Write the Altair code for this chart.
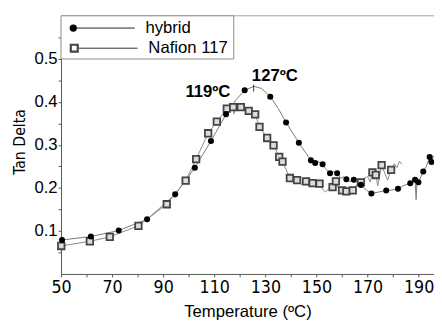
import altair as alt
import pandas as pd

# ---------------- data ----------------
hyb_T = [50.4, 61.7, 72.6, 83.7, 94.7, 102.4, 108.7, 114.6, 121.9, 131.9, 138.1, 143.1,
         147.8, 149.5, 152.4, 155.3, 158.1, 161.7, 164.6, 167.4, 171.5, 177.3, 181.9,
         186.7, 188.6, 189.9, 191.8, 194.3, 195.0]
hyb_y = [0.079, 0.087, 0.101, 0.127, 0.185, 0.247, 0.309, 0.371, 0.427, 0.412, 0.352, 0.305,
         0.264, 0.258, 0.255, 0.234, 0.234, 0.220, 0.219, 0.207, 0.187, 0.194, 0.198,
         0.211, 0.219, 0.213, 0.238, 0.272, 0.260]

naf_T = [50.1, 61.3, 69.1, 80.3, 91.4, 98.8, 102.9, 107.6, 111.0, 114.9, 117.4, 120.4,
         123.5, 126.0, 127.7, 130.7, 133.2, 135.4, 136.7, 139.6, 142.4, 145.9, 148.5,
         151.2, 156.3, 157.6, 160.0, 161.7, 164.2, 167.4, 171.9, 173.2, 175.5, 179.2]
naf_y = [0.065, 0.076, 0.086, 0.112, 0.162, 0.217, 0.267, 0.327, 0.354, 0.384, 0.388, 0.388,
         0.379, 0.371, 0.342, 0.316, 0.299, 0.272, 0.261, 0.223, 0.218, 0.215, 0.211,
         0.210, 0.202, 0.215, 0.194, 0.192, 0.194, 0.213, 0.236, 0.230, 0.253, 0.242]

# thin raw traces (pass through markers, with the noise seen between them)
hyb_line_T = [50.4, 61.7, 72.6, 83.7, 94.7, 102.4, 108.7, 114.6, 118.5, 121.9, 125.5, 128.5,
              131.9, 135.0, 138.1, 143.1, 147.8, 149.5, 150.5, 152.4, 153.5, 155.3, 156.5,
              158.1, 159.5, 160.5, 161.7, 163.0, 164.6, 166.0, 167.4, 169.5, 171.5, 174.0,
              177.3, 179.5, 181.9, 184.0, 186.7, 188.6, 189.0, 189.4, 189.9, 191.8, 193.0,
              194.3, 195.0, 195.8]
hyb_line_y = [0.079, 0.087, 0.101, 0.127, 0.185, 0.247, 0.309, 0.371, 0.405, 0.427, 0.436, 0.431,
              0.412, 0.385, 0.352, 0.305, 0.264, 0.258, 0.262, 0.255, 0.245, 0.234, 0.238,
              0.234, 0.222, 0.226, 0.220, 0.215, 0.219, 0.212, 0.207, 0.195, 0.187, 0.190,
              0.194, 0.195, 0.198, 0.205, 0.211, 0.219, 0.173, 0.222, 0.213, 0.238, 0.250,
              0.272, 0.260, 0.275]

naf_line_T = [50.1, 61.3, 69.1, 80.3, 91.4, 98.8, 102.9, 107.6, 111.0, 114.9, 117.4, 120.4,
              123.5, 126.0, 127.7, 130.7, 133.2, 135.4, 136.7, 139.6, 141.0, 142.4, 144.0,
              145.9, 147.0, 148.5, 150.0, 151.2, 152.5, 153.5, 155.0, 156.3, 157.6, 158.5,
              160.0, 161.7, 163.0, 164.2, 165.5, 167.4, 168.5, 170.0, 171.0, 171.9, 173.2,
              174.0, 175.5, 176.5, 177.8, 179.2, 180.5, 181.5, 182.5, 183.5]
naf_line_y = [0.065, 0.076, 0.086, 0.112, 0.162, 0.217, 0.267, 0.327, 0.354, 0.384, 0.388, 0.388,
              0.379, 0.371, 0.342, 0.316, 0.299, 0.272, 0.261, 0.223, 0.219, 0.218, 0.208,
              0.215, 0.204, 0.211, 0.200, 0.210, 0.196, 0.190, 0.200, 0.202, 0.215, 0.200,
              0.194, 0.192, 0.200, 0.194, 0.206, 0.213, 0.222, 0.226, 0.214, 0.236, 0.230,
              0.205, 0.253, 0.238, 0.218, 0.242, 0.256, 0.247, 0.262, 0.255]

peak_T = [125.4, 117.7]
peak_lo = [0.424, 0.372]
peak_hi = [0.440, 0.397]

ann_text = ["119ºC", "127ºC"]
ann_T = [107.5, 133.7]
ann_y = [0.422, 0.459]

x_ticks = [50, 60, 70, 80, 90, 100, 110, 120, 130, 140, 150, 160, 170, 180, 190]
y_ticks = [0.05, 0.1, 0.15, 0.2, 0.25, 0.3, 0.35, 0.4, 0.45, 0.5, 0.55]

legend_labels = ["hybrid", "Nafion 117"]

# ---------------- tables ----------------
hyb = pd.DataFrame({"T": hyb_T, "v": hyb_y})
naf = pd.DataFrame({"T": naf_T, "v": naf_y})
hyb_line = pd.DataFrame({"T": hyb_line_T, "v": hyb_line_y, "i": range(len(hyb_line_T))})
naf_line = pd.DataFrame({"T": naf_line_T, "v": naf_line_y, "i": range(len(naf_line_T))})
peaks = pd.DataFrame({"T": peak_T, "lo": peak_lo, "hi": peak_hi})
ann = pd.DataFrame({"t": ann_text, "T": ann_T, "v": ann_y})

NARROW = "Liberation Sans Narrow, Arial Narrow, DejaVu Sans Condensed, Liberation Sans"
W, H = 380, 263
xs = alt.Scale(domain=[50, 196], nice=False, zero=False)
ys = alt.Scale(domain=[0, 0.6], nice=False, zero=False)
AX = "#555555"

xaxis = alt.Axis(values=x_ticks, labelExpr="(datum.value % 20 == 10) ? datum.label : ''",
                 title="Temperature (ºC)", titleFont="Liberation Sans", titleFontSize=17,
                 titleFontWeight="normal", titleColor="black", titleY=43,
                 titleBaseline="alphabetic", labelFont=NARROW,
                 labelFontSize=18, labelColor="black", labelPadding=2, tickSize=3,
                 tickColor=AX, domainColor=AX, grid=False, labelFlush=False,
                 labelOverlap=False)
yaxis = alt.Axis(values=y_ticks,
                 labelExpr="(round(datum.value*100) % 10 == 0) ? format(datum.value, '.1f') : ''",
                 title="Tan Delta", titleFont=NARROW, titleFontSize=16,
                 titleFontWeight="normal", titleColor="black", titleX=-37, titleY=128,
                 titleAngle=270, titleBaseline="alphabetic", titleAlign="center",
                 labelFont="Liberation Sans", labelFontSize=17, labelColor="black",
                 labelPadding=1, tickSize=3, tickColor=AX, domainColor=AX, grid=False,
                 labelOverlap=False)

X = alt.X("T:Q", scale=xs, axis=xaxis)
Y = alt.Y("v:Q", scale=ys, axis=yaxis)

hyb_ln = alt.Chart(hyb_line).mark_line(color="#7a7a7a", strokeWidth=1).encode(
    x=X, y=Y, order="i:Q")
naf_ln = alt.Chart(naf_line).mark_line(color="#8a8a8a", strokeWidth=1).encode(
    x=X, y=Y, order="i:Q")
peak_rules = alt.Chart(peaks).mark_rule(color="#333333", strokeWidth=1).encode(
    x=X, y=alt.Y("lo:Q", scale=ys, axis=yaxis), y2="hi:Q")
naf_pts = alt.Chart(naf).mark_point(shape="square", size=44, fill="#dcdcdc", stroke="#444444",
                                    strokeWidth=1.8, opacity=1).encode(x=X, y=Y)
hyb_pts = alt.Chart(hyb).mark_point(shape="circle", size=38, filled=True, color="black",
                                    opacity=1).encode(x=X, y=Y)
ann_txt = alt.Chart(ann).mark_text(font="Liberation Sans", fontSize=17, fontWeight="bold",
                                   color="black").encode(x=X, y=Y, text="t:N")

# frame line on top
top_rule = alt.Chart(pd.DataFrame({"a": [0]})).mark_rule(color="#a0a0a0", strokeWidth=1).encode(
    y=alt.value(0), x=alt.value(0), x2=alt.value(W))

# legend box drawn by hand
leg = pd.DataFrame({"label": legend_labels, "row": [0, 1]})
leg_box = alt.Chart(pd.DataFrame({"a": [0]})).mark_rect(fill="white", stroke="#8c8c8c",
                                                        strokeWidth=1).encode(
    x=alt.value(0), x2=alt.value(176), y=alt.value(0), y2=alt.value(44))
leg_l1 = alt.Chart(pd.DataFrame({"a": [0]})).mark_rule(color="#222222", strokeWidth=1).encode(
    x=alt.value(16), x2=alt.value(75), y=alt.value(12.5))
leg_l2 = alt.Chart(pd.DataFrame({"a": [0]})).mark_rule(color="#333333", strokeWidth=1).encode(
    x=alt.value(18), x2=alt.value(78), y=alt.value(33))
leg_c = alt.Chart(pd.DataFrame({"a": [0]})).mark_point(shape="circle", size=55, filled=True,
                                                       color="black", opacity=1).encode(
    x=alt.value(12.5), y=alt.value(12.5))
leg_s = alt.Chart(pd.DataFrame({"a": [0]})).mark_point(shape="square", size=50, fill="white",
                                                       stroke="#444444", strokeWidth=2.2,
                                                       opacity=1).encode(
    x=alt.value(13.5), y=alt.value(33))
leg_t1 = alt.Chart(leg[leg.row == 0]).mark_text(align="left", baseline="middle",
                                                 font="Liberation Sans", fontSize=17,
                                                 color="black").encode(
    x=alt.value(86), y=alt.value(13), text="label:N")
leg_t2 = alt.Chart(leg[leg.row == 1]).mark_text(align="left", baseline="middle",
                                                 font="Liberation Sans", fontSize=17,
                                                 color="black").encode(
    x=alt.value(89), y=alt.value(32.5), text="label:N")

chart = alt.layer(
    hyb_ln, naf_ln, peak_rules, naf_pts, hyb_pts, ann_txt, top_rule,
    leg_box, leg_l1, leg_l2, leg_c, leg_s, leg_t1, leg_t2
).properties(
    width=W, height=H,
    autosize=alt.AutoSizeParams(type="none"),
    padding={"left": 54, "top": 5, "right": 0, "bottom": 46},
    background="white",
).configure_view(stroke=None)

chart.save("out.html", embed_options={"renderer": "svg", "actions": False})
